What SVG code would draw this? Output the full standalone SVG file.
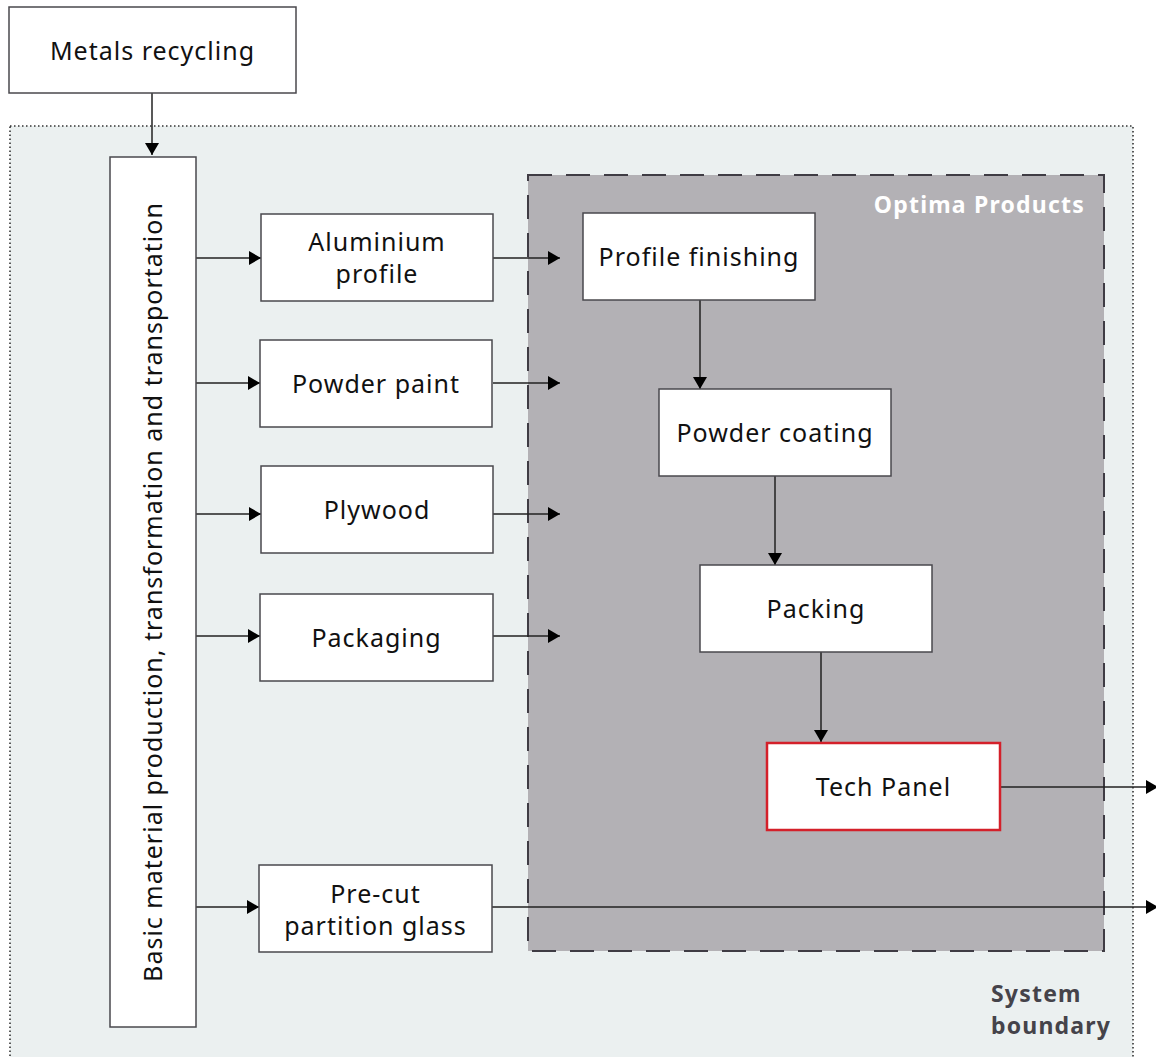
<svg xmlns="http://www.w3.org/2000/svg" width="1156" height="1057" viewBox="0 0 1156 1057">
<style>
.node{fill:#ffffff;stroke:#4a484d;stroke-width:1.5}
.lbl{font-family:"Noto Sans","Open Sans",sans-serif;font-size:25px;letter-spacing:1px;fill:#111;text-anchor:middle}
.bold{font-family:"Noto Sans","Open Sans",sans-serif;font-size:23px;font-weight:bold;letter-spacing:1.2px}
.conn{stroke:#222;stroke-width:1.5;fill:none}
</style>
<defs>
<marker id="ah" markerUnits="userSpaceOnUse" markerWidth="14" markerHeight="14" viewBox="0 0 14 14" refX="12" refY="7" orient="auto">
<path d="M0,0 L12,7 L0,14 Z" fill="#000"/>
</marker>
</defs>
<rect x="0" y="0" width="1156" height="1057" fill="#ffffff"/>
<g id="system-boundary">
<rect x="10" y="126" width="1123" height="940" fill="#ebf0f0" stroke="#333" stroke-width="1.6" stroke-dasharray="1.5 2.5"/>
<text class="bold" x="991" y="1002" fill="#45434a">System</text>
<text class="bold" x="991" y="1034" fill="#45434a">boundary</text>
</g>
<g id="optima-products">
<rect x="528" y="175" width="576" height="776" fill="#b3b1b5" stroke="#3f3c44" stroke-width="2" stroke-dasharray="24 14"/>
<text class="bold" x="1085" y="213" fill="#ffffff" text-anchor="end">Optima Products</text>
</g>
<g id="connectors">
<line class="conn" x1="152" y1="93" x2="152" y2="155" marker-end="url(#ah)"/>
<line class="conn" x1="196" y1="258" x2="261" y2="258" marker-end="url(#ah)"/>
<line class="conn" x1="196" y1="383" x2="260" y2="383" marker-end="url(#ah)"/>
<line class="conn" x1="196" y1="514" x2="261" y2="514" marker-end="url(#ah)"/>
<line class="conn" x1="196" y1="636" x2="260" y2="636" marker-end="url(#ah)"/>
<line class="conn" x1="196" y1="907" x2="259" y2="907" marker-end="url(#ah)"/>
<line class="conn" x1="493" y1="258" x2="560" y2="258" marker-end="url(#ah)"/>
<line class="conn" x1="493" y1="383" x2="560" y2="383" marker-end="url(#ah)"/>
<line class="conn" x1="493" y1="514" x2="560" y2="514" marker-end="url(#ah)"/>
<line class="conn" x1="493" y1="636" x2="560" y2="636" marker-end="url(#ah)"/>
<line class="conn" x1="700" y1="300" x2="700" y2="389" marker-end="url(#ah)"/>
<line class="conn" x1="775" y1="476" x2="775" y2="565" marker-end="url(#ah)"/>
<line class="conn" x1="821" y1="652" x2="821" y2="742" marker-end="url(#ah)"/>
<line class="conn" x1="1000" y1="787" x2="1158" y2="787" marker-end="url(#ah)"/>
<line class="conn" x1="492" y1="907" x2="1158" y2="907" marker-end="url(#ah)"/>
</g>
<g id="metals-recycling">
<rect class="node" x="9" y="7" width="287" height="86"/>
<text class="lbl" x="152.5" y="60">Metals recycling</text>
</g>
<g id="basic-material">
<rect class="node" x="110" y="157" width="86" height="870"/>
<text class="lbl" transform="translate(162,592) rotate(-90)" x="0" y="0">Basic material production, transformation and transportation</text>
</g>
<g id="aluminium-profile">
<rect class="node" x="261" y="214" width="232" height="87"/>
<text class="lbl" x="377" y="251">Aluminium</text>
<text class="lbl" x="377" y="283">profile</text>
</g>
<g id="powder-paint">
<rect class="node" x="260" y="340" width="232" height="87"/>
<text class="lbl" x="376" y="393">Powder paint</text>
</g>
<g id="plywood">
<rect class="node" x="261" y="466" width="232" height="87"/>
<text class="lbl" x="377" y="519">Plywood</text>
</g>
<g id="packaging">
<rect class="node" x="260" y="594" width="233" height="87"/>
<text class="lbl" x="376.5" y="647">Packaging</text>
</g>
<g id="pre-cut-glass">
<rect class="node" x="259" y="865" width="233" height="87"/>
<text class="lbl" x="375.5" y="903">Pre-cut</text>
<text class="lbl" x="375.5" y="935">partition glass</text>
</g>
<g id="profile-finishing">
<rect class="node" x="583" y="213" width="232" height="87"/>
<text class="lbl" x="699" y="266">Profile finishing</text>
</g>
<g id="powder-coating">
<rect class="node" x="659" y="389" width="232" height="87"/>
<text class="lbl" x="775" y="442">Powder coating</text>
</g>
<g id="packing">
<rect class="node" x="700" y="565" width="232" height="87"/>
<text class="lbl" x="816" y="618">Packing</text>
</g>
<g id="tech-panel">
<rect x="767" y="743" width="233" height="87" fill="#ffffff" stroke="#d4202a" stroke-width="2.5"/>
<text class="lbl" x="883.5" y="796">Tech Panel</text>
</g>
</svg>
